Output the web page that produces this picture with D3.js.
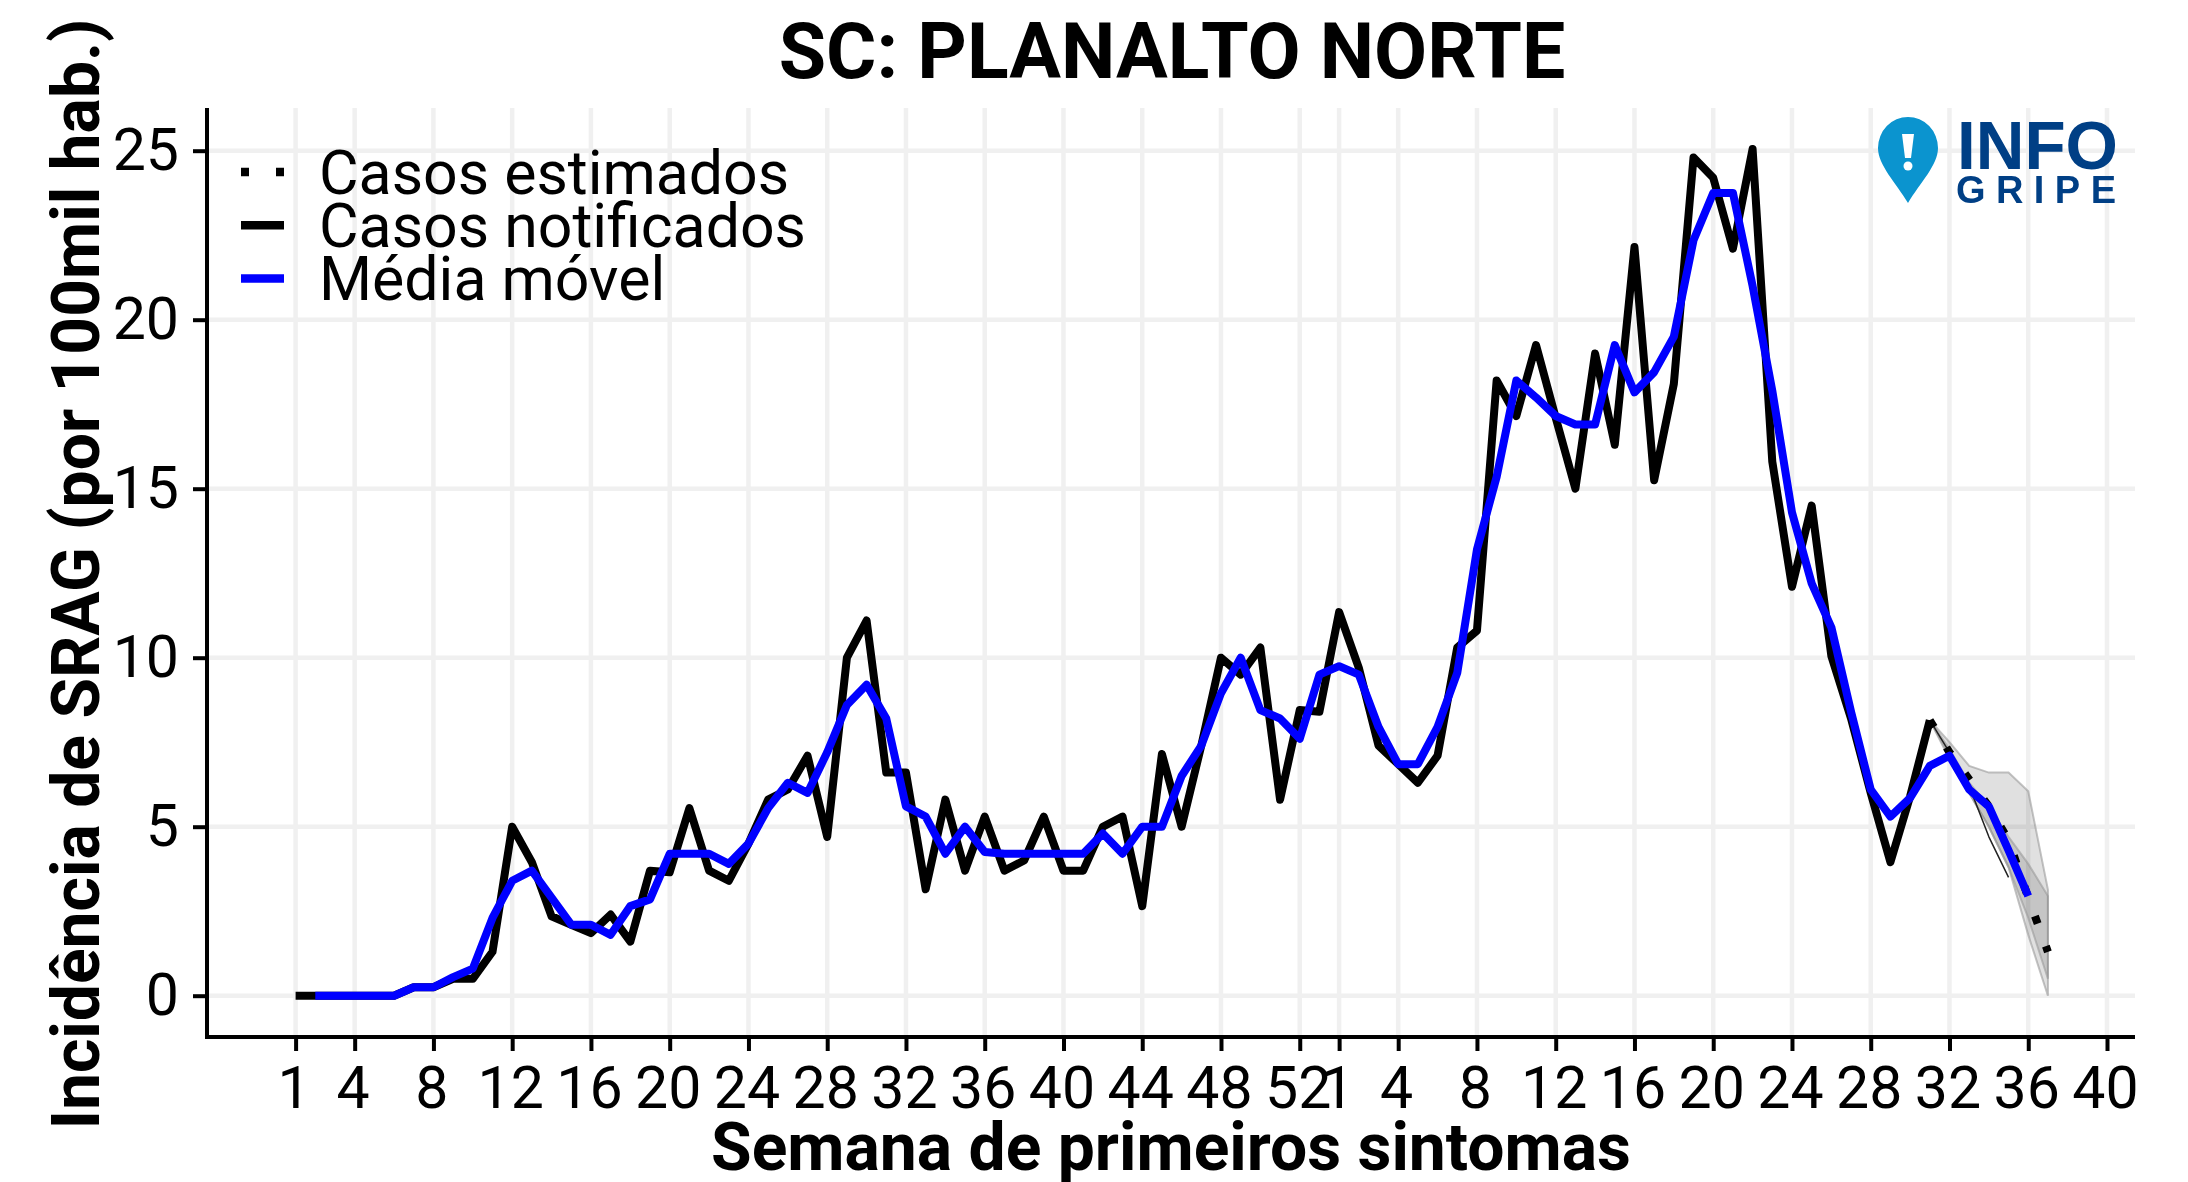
<!DOCTYPE html>
<html>
<head>
<meta charset="utf-8">
<style>
html, body { margin: 0; padding: 0; background: #fff; }
svg { display: block; filter: blur(0.7px); }
text { font-family: Roboto, sans-serif; fill: #000; }
.grid line { stroke: #f0f0f0; stroke-width: 4.5; }
.axis path, .axis line { stroke: #000; stroke-width: 4; fill: none; }
.axis text { font-size: 59px; }
.line { fill: none; stroke-linejoin: round; }
.ribbon { fill: #000; fill-opacity: 0.12; stroke: #999; stroke-opacity: 0.6; stroke-width: 2; }
</style>
</head>
<body>
<script src="https://d3js.org/d3.v7.min.js"></script>
<script>
// 2020 has 53 epi weeks, then 2021 up to week 40
const tickIndex = [0, 3, 7, 11, 15, 19, 23, 27, 31, 35, 39, 43, 47, 51, 53, 56, 60, 64, 68, 72, 76, 80, 84, 88, 92];
const tickWeek = [1, 4, 8, 12, 16, 20, 24, 28, 32, 36, 40, 44, 48, 52, 1, 4, 8, 12, 16, 20, 24, 28, 32, 36, 40];
const yTicks = [0, 5, 10, 15, 20, 25];

// notificados, starts at index 0
const notified = [0, 0, 0, 0, 0, 0, 0.25, 0.25, 0.5, 0.5, 1.3, 5.0, 3.95, 2.35, 2.1, 1.85, 2.4, 1.6, 3.7, 3.65, 5.55, 3.7, 3.4,
  4.5, 5.8, 6.1, 7.1, 4.7, 10.0, 11.1, 6.6, 6.6, 3.15, 5.8, 3.7, 5.3, 3.7, 4.0, 5.3, 3.7, 3.7, 5.0, 5.3, 2.65, 7.15, 5.0,
  7.4, 10.0, 9.5, 10.3, 5.8, 8.45, 8.4, 11.35, 9.7, 7.4, 6.85, 6.3, 7.1, 10.3, 10.8, 18.2, 17.15, 19.25, 17.1, 15.0, 19.0,
  16.3, 22.15, 15.25, 18.1, 24.8, 24.2, 22.1, 25.05, 15.8, 12.1, 14.5, 10.05, 8.2, 6.0, 3.95, 5.9, 8.15];

// media movel, starts at index 1
const moving = [0, 0, 0, 0, 0, 0.25, 0.25, 0.55, 0.8, 2.3, 3.4, 3.7, 2.9, 2.1, 2.1, 1.8, 2.65, 2.85, 4.2, 4.2, 4.2, 3.9, 4.5,
  5.55, 6.3, 6.0, 7.2, 8.6, 9.2, 8.2, 5.6, 5.3, 4.2, 5.0, 4.25, 4.2, 4.2, 4.2, 4.2, 4.2, 4.8, 4.2, 5.0, 5.0, 6.5, 7.4, 8.95,
  10.0, 8.45, 8.2, 7.6, 9.5, 9.75, 9.5, 7.95, 6.85, 6.85, 7.95, 9.55, 13.2, 15.35, 18.2, 17.7, 17.15, 16.9, 16.9, 19.25,
  17.85, 18.45, 19.5, 22.35, 23.75, 23.75, 21.0, 17.9, 14.3, 12.2, 10.9, 8.4, 6.1, 5.3, 5.85, 6.8, 7.1, 6.1, 5.6, 4.3, 2.95];

// nowcast part, index 83 to 89
const estIndex = [83, 84, 85, 86, 87, 88, 89];
const estimated = [8.15, 7.2, 6.4, 5.6, 4.6, 2.9, 1.3];
const estUpper = [8.15, 7.5, 6.8, 6.6, 6.6, 6.05, 3.13];
const estLower = [8.15, 7.0, 6.0, 5.0, 3.8, 1.8, 0];
const avgUpper = [8.15, 7.3, 6.3, 5.6, 4.7, 3.9, 2.95];
const avgLower = [8.15, 7.1, 6.0, 5.0, 3.8, 2.3, 0.5];
const thinIndex = [83, 84, 85, 86, 87];
const thinLine = [8.15, 7.2, 6.2, 4.7, 3.5];

const legendItems = ["Casos estimados", "Casos notificados", "Média móvel"];

const width = 2188, height = 1182;
const panel = {left: 207, right: 2135, top: 108, bottom: 1037};

const x = d3.scaleLinear().domain([0, 92]).range([295.6, 2107]);
const y = d3.scaleLinear().domain([0, 25]).range([995.7, 150.7]);

const svg = d3.select("body").append("svg")
    .attr("width", width)
    .attr("height", height);

// grid
const grid = svg.append("g").attr("class", "grid");
grid.selectAll(".gx").data(tickIndex).enter().append("line")
    .attr("x1", d => x(d)).attr("x2", d => x(d))
    .attr("y1", panel.top).attr("y2", panel.bottom);
grid.selectAll(".gy").data(yTicks).enter().append("line")
    .attr("x1", panel.left).attr("x2", panel.right)
    .attr("y1", d => y(d)).attr("y2", d => y(d));

const line = d3.line().x(d => x(d[0])).y(d => y(d[1]));
const pairs = (idx, vals) => vals.map((v, i) => [idx[i], v]);
const ribbon = d3.area().x(d => x(d[0])).y0(d => y(d[1])).y1(d => y(d[2]));

// ribbons
[[estUpper, estLower], [avgUpper, avgLower]].forEach(function(r) {
    svg.append("path")
        .attr("class", "ribbon")
        .attr("d", ribbon(estIndex.map((k, i) => [k, r[1][i], r[0][i]])));
});

svg.append("path").attr("class", "line")
    .attr("d", line(pairs(thinIndex, thinLine)))
    .attr("stroke", "#222").attr("stroke-width", 1.5);

svg.append("path").attr("class", "line")
    .attr("d", line(pairs(estIndex, estimated)))
    .attr("stroke", "#000").attr("stroke-width", 8)
    .attr("stroke-dasharray", "8 24");

svg.append("path").attr("class", "line")
    .attr("d", line(notified.map((v, i) => [i, v])))
    .attr("stroke", "#000").attr("stroke-width", 8);

svg.append("path").attr("class", "line")
    .attr("d", line(moving.map((v, i) => [i + 1, v])))
    .attr("stroke", "#0000ff").attr("stroke-width", 8);

// axes
const xAxis = d3.axisBottom(x)
    .tickValues(tickIndex)
    .tickFormat((d, i) => tickWeek[i])
    .tickSize(14).tickPadding(15);
const yAxis = d3.axisLeft(y)
    .tickValues(yTicks)
    .tickSize(14).tickPadding(14);

const gx = svg.append("g").attr("class", "axis")
    .attr("transform", "translate(0," + panel.bottom + ")")
    .call(xAxis);
gx.select(".domain").attr("d", "M" + (panel.left - 2) + ",0H" + panel.right);
gx.selectAll("text").attr("dx", -2);

const gy = svg.append("g").attr("class", "axis")
    .attr("transform", "translate(" + panel.left + ",0)")
    .call(yAxis);
gy.select(".domain").attr("d", "M0," + panel.top + "V" + (panel.bottom + 2));

// titles
svg.append("text")
    .attr("x", 1172).attr("y", 78)
    .attr("text-anchor", "middle")
    .style("font-size", "77px").style("font-weight", 700)
    .text("SC: PLANALTO NORTE");
svg.append("text")
    .attr("x", 1171).attr("y", 1170)
    .attr("text-anchor", "middle")
    .style("font-size", "66px").style("font-weight", 700)
    .text("Semana de primeiros sintomas");
svg.append("text")
    .attr("transform", "translate(99,574) rotate(-90)")
    .attr("text-anchor", "middle")
    .style("font-size", "66px").style("font-weight", 700)
    .text("Incidência de SRAG (por 100mil hab.)");

// legend
const legend = svg.selectAll(".legend").data(legendItems).enter().append("g")
    .attr("class", "legend")
    .attr("transform", (d, i) => "translate(241," + (172 + i * 53.3) + ")");
legend.append("line")
    .attr("x1", 0).attr("x2", 43)
    .attr("stroke", (d, i) => i == 2 ? "#0000ff" : "#000")
    .attr("stroke-width", 8.5)
    .attr("stroke-dasharray", (d, i) => i == 0 ? "8 27" : null);
legend.append("text")
    .attr("x", 78).attr("y", 21.5)
    .style("font-size", "60.8px")
    .text(d => d);

// logo
const logo = svg.append("g");
logo.append("path")
    .attr("fill", "#0b94cf")
    .attr("d", "M1908,203C1896,183 1878,165 1878,148A30,31 0 0 1 1938,148C1938,165 1920,183 1908,203Z");
logo.append("path")
    .attr("fill", "#fff")
    .attr("d", "M1902,134H1914L1911,158H1905Z");
logo.append("circle").attr("cx", 1908).attr("cy", 166).attr("r", 4.5).attr("fill", "#fff");
logo.append("text")
    .attr("x", 1957).attr("y", 169)
    .attr("textLength", 161).attr("lengthAdjust", "spacingAndGlyphs")
    .style("font-family", "Liberation Sans").style("font-weight", 700)
    .style("font-size", "69px").style("fill", "#003f85")
    .text("INFO");
logo.append("text")
    .attr("x", 1956).attr("y", 203)
    .attr("textLength", 160).attr("lengthAdjust", "spacing")
    .style("font-family", "Liberation Sans").style("font-weight", 700)
    .style("font-size", "38px").style("fill", "#003f85")
    .text("GRIPE");
</script>
</body>
</html>
